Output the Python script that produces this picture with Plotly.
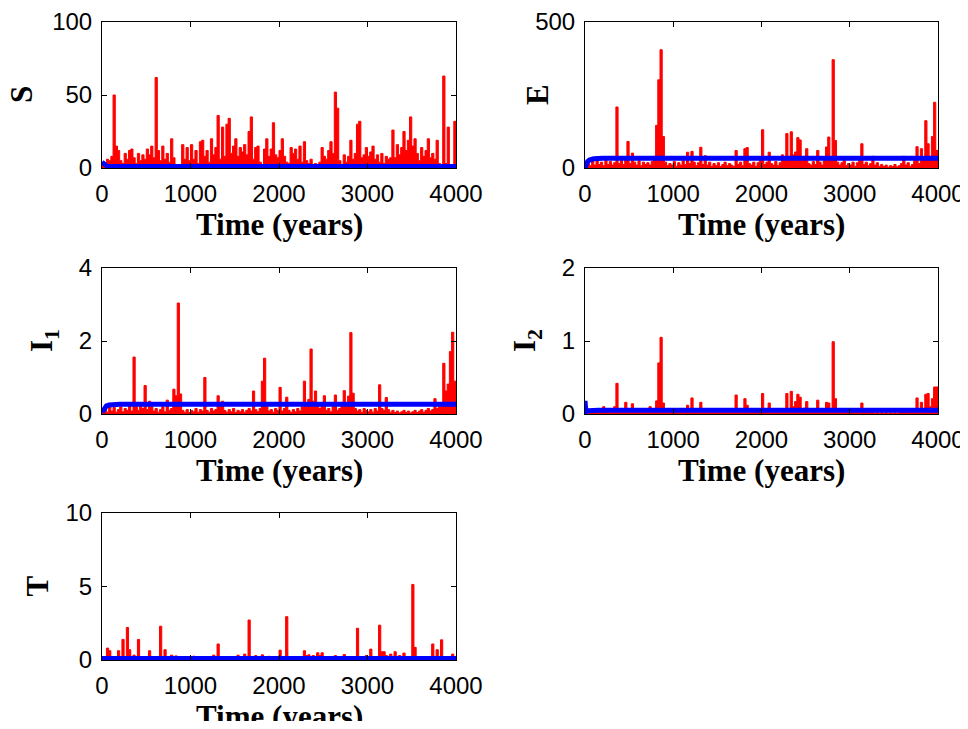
import plotly.graph_objects as go

# ---------------- data ----------------
STEP = 25  # years between stochastic samples

S_red = [4, 3, 6, 5, 8, 50, 15, 12, 5, 3, 10, 6, 12, 13, 7, 3, 10, 5, 9, 6,
         13, 9, 15, 7, 62, 12, 5, 15, 6, 10, 4, 20, 7, 1, 1, 2, 16, 6, 14, 5,
         16, 6, 12, 3, 18, 19, 8, 12, 4, 20, 9, 14, 36, 6, 28, 8, 30, 34, 10, 15,
         20, 8, 14, 11, 16, 9, 25, 35, 6, 14, 15, 4, 2, 13, 20, 8, 13, 31, 9, 7,
         12, 20, 8, 4, 3, 14, 10, 13, 6, 15, 4, 18, 5, 3, 6, 2, 3, 2, 4, 14,
         8, 6, 12, 18, 10, 52, 41, 5, 2, 9, 4, 8, 19, 6, 10, 30, 32, 7, 9, 14,
         8, 11, 15, 6, 9, 4, 10, 3, 8, 6, 7, 26, 7, 16, 9, 14, 25, 12, 19, 35,
         15, 20, 10, 5, 14, 8, 12, 20, 7, 10, 6, 19, 3, 2, 63, 3, 28, 2, 1, 32,
         20]

E_red = [0, 15, 8, 25, 10, 30, 12, 20, 8, 35, 12, 22, 10, 18, 209, 15, 25, 12, 30, 91,
         15, 51, 20, 10, 25, 8, 20, 12, 18, 10, 22, 40, 146, 302, 405, 108, 20, 8, 15, 10,
         22, 6, 18, 10, 25, 12, 54, 15, 57, 20, 8, 18, 71, 12, 42, 10, 20, 6, 15, 8,
         18, 5, 12, 20, 8, 15, 10, 5, 60, 12, 20, 8, 66, 70, 15, 10, 20, 6, 18, 25,
         131, 12, 20, 54, 15, 10, 22, 8, 18, 45, 25, 118, 30, 124, 45, 55, 104, 96, 25, 40,
         66, 15, 10, 22, 12, 60, 20, 10, 25, 72, 106, 30, 371, 94, 20, 10, 18, 25, 8, 15,
         10, 20, 6, 18, 25, 83, 12, 20, 8, 15, 40, 10, 18, 6, 12, 5, 10, 3, 8, 5,
         12, 4, 8, 15, 40, 10, 18, 6, 12, 25, 73, 15, 66, 30, 162, 83, 40, 108, 225, 60,
         9]

I1_red = [0.05, 0.15, 0.05, 0.2, 0.08, 0.18, 0.05, 0.12, 0.2, 0.06, 0.15, 0.1, 0.3, 0.08, 1.56, 0.2, 0.1, 0.3, 0.15, 0.78,
          0.12, 0.35, 0.2, 0.08, 0.15, 0.05, 0.12, 0.2, 0.06, 0.38, 0.1, 0.15, 0.68, 0.5, 3.04, 0.55, 0.1, 0.05, 0.12, 0.04,
          0.1, 0.06, 0.15, 0.05, 0.12, 0.08, 1.0, 0.1, 0.05, 0.15, 0.08, 0.12, 0.5, 0.2, 0.35, 0.1, 0.05, 0.12, 0.06, 0.15,
          0.04, 0.1, 0.06, 0.12, 0.05, 0.1, 0.15, 0.08, 0.63, 0.12, 0.06, 0.15, 0.9, 1.53, 0.2, 0.08, 0.12, 0.05, 0.15, 0.1,
          0.73, 0.08, 0.15, 0.46, 0.1, 0.05, 0.12, 0.06, 0.15, 0.08, 0.2, 0.9, 0.3, 0.4, 1.78, 0.35, 0.63, 0.3, 0.15, 0.25,
          0.5, 0.1, 0.15, 0.06, 0.2, 0.52, 0.1, 0.15, 0.3, 0.64, 0.2, 0.49, 2.23, 0.57, 0.15, 0.08, 0.12, 0.05, 0.15, 0.1,
          0.06, 0.12, 0.05, 0.15, 0.08, 0.8, 0.15, 0.1, 0.45, 0.12, 0.05, 0.1, 0.04, 0.08, 0.03, 0.06, 0.1, 0.04, 0.08, 0.03,
          0.06, 0.1, 0.04, 0.08, 0.12, 0.05, 0.1, 0.15, 0.08, 0.12, 0.42, 0.15, 0.3, 0.2, 1.39, 0.63, 0.82, 1.71, 2.24, 0.9,
          0.1]

I2_red = [0.02, 0.04, 0.02, 0.05, 0.03, 0.04, 0.02, 0.05, 0.1, 0.03, 0.05, 0.02, 0.04, 0.1, 0.42, 0.05, 0.03, 0.05, 0.16, 0.04,
          0.03, 0.14, 0.05, 0.02, 0.04, 0.03, 0.05, 0.02, 0.04, 0.1, 0.03, 0.05, 0.18, 0.7, 1.05, 0.15, 0.04, 0.02, 0.03, 0.02,
          0.04, 0.02, 0.03, 0.02, 0.04, 0.03, 0.12, 0.04, 0.22, 0.03, 0.05, 0.02, 0.16, 0.04, 0.03, 0.02, 0.04, 0.02, 0.03, 0.02,
          0.04, 0.02, 0.03, 0.02, 0.04, 0.03, 0.02, 0.04, 0.26, 0.03, 0.05, 0.02, 0.21, 0.12, 0.04, 0.02, 0.03, 0.02, 0.04, 0.05,
          0.28, 0.03, 0.04, 0.15, 0.03, 0.02, 0.04, 0.02, 0.03, 0.05, 0.04, 0.28, 0.06, 0.31, 0.1, 0.17, 0.27, 0.23, 0.06, 0.08,
          0.17, 0.03, 0.02, 0.04, 0.03, 0.19, 0.05, 0.02, 0.04, 0.16, 0.15, 0.05, 0.99, 0.21, 0.04, 0.02, 0.03, 0.05, 0.02, 0.03,
          0.02, 0.04, 0.02, 0.03, 0.04, 0.15, 0.03, 0.02, 0.03, 0.02, 0.04, 0.01, 0.03, 0.01, 0.02, 0.01, 0.02, 0.01, 0.02, 0.01,
          0.02, 0.01, 0.02, 0.03, 0.05, 0.02, 0.03, 0.02, 0.04, 0.05, 0.22, 0.04, 0.16, 0.06, 0.27, 0.28, 0.1, 0.21, 0.37, 0.37,
          0.05]

T_red = [0.1, 0.05, 0.81, 0.63, 0.1, 0.2, 0.05, 0.63, 0.15, 1.4, 0.2, 2.21, 0.7, 0.1, 0.33, 0.15, 1.4, 0.1, 0.2, 0.05,
         0.15, 0.63, 0.1, 0.05, 0.2, 0.1, 2.3, 0.15, 0.7, 0.2, 0.1, 0.33, 0.05, 0.28, 0.1, 0.05, 0.15, 0.05, 0.1, 0.05,
         0.15, 0.26, 0.05, 0.1, 0.05, 0.15, 0.05, 0.1, 0.05, 0.15, 0.33, 0.1, 1.09, 0.05, 0.1, 0.05, 0.15, 0.05, 0.2, 0.1,
         0.15, 0.33, 0.1, 0.2, 0.4, 0.15, 2.72, 0.2, 0.1, 0.3, 0.05, 0.15, 0.35, 0.2, 0.1, 0.25, 0.05, 0.1, 0.05, 0.2,
         0.67, 0.1, 0.05, 2.95, 0.1, 0.05, 0.1, 0.05, 0.15, 0.05, 0.2, 0.63, 0.3, 0.35, 0.1, 0.3, 0.2, 0.49, 0.3, 0.49,
         0.1, 0.2, 0.05, 0.1, 0.05, 0.3, 0.1, 0.05, 0.15, 0.37, 0.1, 0.2, 0.05, 0.15, 0.2, 2.16, 0.1, 0.05, 0.15, 0.3,
         0.2, 0.74, 0.1, 0.2, 0.1, 2.37, 0.56, 0.56, 0.3, 0.15, 0.4, 0.2, 0.56, 0.2, 0.3, 0.1, 0.47, 0.15, 0.05, 0.1,
         5.14, 0.86, 0.1, 0.15, 0.05, 0.2, 0.1, 0.05, 0.15, 1.09, 0.1, 0.7, 0.2, 1.37, 0.15, 0.05, 0.2, 0.1, 0.4, 0.2,
         0.25]

# deterministic (blue) solutions
S_blue_t = [0, 20, 40, 60, 100, 4000]
S_blue = [4.0, 3.0, 1.5, 1.1, 1.1, 1.1]
E_blue_t = [0, 10, 20, 30, 50, 75, 100, 150, 200, 4000]
E_blue = [0, 10, 17, 22, 27, 30, 31.5, 32.5, 33, 33]
I1_blue_t = [0, 15, 30, 50, 80, 120, 200, 4000]
I1_blue = [0.05, 0.12, 0.18, 0.22, 0.245, 0.258, 0.265, 0.265]
I2_blue_t = [0, 5, 10, 20, 40, 80, 150, 4000]
I2_blue = [0.18, 0.08, 0.03, 0.035, 0.045, 0.05, 0.052, 0.052]
T_blue_t = [0, 4000]
T_blue = [0.1, 0.1]

panels = [
    # name, red, blue_t, blue, yrange, yticks
    ("S", S_red, S_blue_t, S_blue, [0, 100], [0, 50, 100]),
    ("E", E_red, E_blue_t, E_blue, [0, 500], [0, 500]),
    ("I<sub>1</sub>", I1_red, I1_blue_t, I1_blue, [0, 4], [0, 2, 4]),
    ("I<sub>2</sub>", I2_red, I2_blue_t, I2_blue, [0, 2], [0, 1, 2]),
    ("T", T_red, T_blue_t, T_blue, [0, 10], [0, 5, 10]),
]
x_ticks = [0, 1000, 2000, 3000, 4000]
x_title = "Time (years)"

# ---------------- layout geometry (screen pixels) ----------------
OFF = 8  # the page body margin offsets the figure by 8px
W, H = 968 - OFF, 729 - 2 * OFF  # fits the window without scrollbars
col_x = [(102, 456), (585, 938)]
row_y = [(22, 168), (268, 414), (513, 660)]
ylab_x = [[22, 538], [44, 527], [37, 0]]
xtitle_y = [224, 470, 716]


def px(v):
    return (v - OFF) / W


def py(v):
    return 1 - (v - OFF) / H


tick_font = dict(family="Liberation Sans, Arial, sans-serif", size=24, color="black")
title_font = dict(family="Liberation Serif, Times New Roman, serif", size=31, color="black")

fig = go.Figure()
layout = dict(width=W, height=H, margin=dict(l=0, r=0, t=0, b=0, pad=0, autoexpand=False),
              paper_bgcolor="white", plot_bgcolor="white", showlegend=False,
              annotations=[])

for k, (name, red, bt, bv, yr, yt) in enumerate(panels):
    r, c = divmod(k, 2)
    ax = "" if k == 0 else str(k + 1)
    xa, ya = "x" + ax, "y" + ax
    t = list(range(0, STEP * len(red), STEP))
    fig.add_trace(go.Scatter(x=t, y=red, mode="lines", xaxis=xa, yaxis=ya,
                             line=dict(color="#ff0000", width=1, shape="hv"),
                             fill="tozeroy", fillcolor="#ff0000"))
    fig.add_trace(go.Scatter(x=bt, y=bv, mode="lines", xaxis=xa, yaxis=ya,
                             line=dict(color="#0000ff", width=5)))
    x0, x1 = col_x[c]
    y0, y1 = row_y[r]
    common = dict(showline=True, linecolor="black", linewidth=1, mirror="ticks",
                  ticks="inside", ticklen=5, tickcolor="black", tickwidth=1,
                  showgrid=False, zeroline=False, tickfont=tick_font, fixedrange=True,
                  automargin=False, ticklabeloverflow="allow")
    layout["xaxis" + ax] = dict(domain=[px(x0), px(x1)], range=[0, 4000],
                                tickvals=x_ticks, ticktext=[str(v) for v in x_ticks],
                                anchor=ya, ticklabelstandoff=4, **common)
    layout["yaxis" + ax] = dict(domain=[py(y1), py(y0)], range=yr,
                                tickvals=yt, ticktext=[str(v) for v in yt],
                                anchor=xa, ticklabelstandoff=4, **common)
    layout["annotations"].append(dict(
        text="<b>" + name + "</b>", x=px(ylab_x[r][c]), y=py((y0 + y1) / 2),
        xref="paper", yref="paper", showarrow=False, textangle=-90,
        font=title_font, xanchor="center", yanchor="middle"))
    layout["annotations"].append(dict(
        text="<b>" + x_title + "</b>", x=px((x0 + x1) / 2), y=py(xtitle_y[r]),
        xref="paper", yref="paper", showarrow=False, font=title_font,
        xanchor="center", yanchor="middle"))

fig.update_layout(**layout)
fig.write_html("out.html")
